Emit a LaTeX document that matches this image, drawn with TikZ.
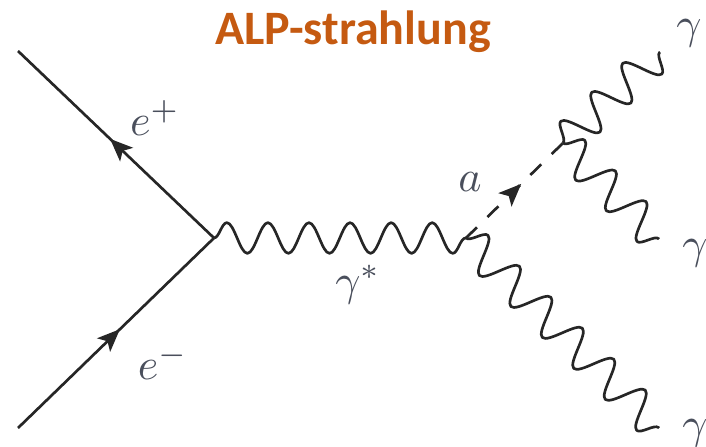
\documentclass[tikz,border=0pt]{standalone}
\usepackage{fontspec}
\setmainfont{Carlito}
\usepackage{xcolor}
\usetikzlibrary{arrows.meta,decorations.markings,decorations.pathmorphing}
\definecolor{titlecol}{HTML}{C55A11}
\definecolor{linecol}{HTML}{262626}
\definecolor{labelcol}{HTML}{4A4F5C}
\tikzset{
    midarrow/.style={postaction={decorate}, decoration={markings,
        mark=at position #1 with {\arrow{Stealth[length=17pt, width=14pt, inset=4pt]}}}},
    fermion/.style={line width=2pt, linecol, midarrow=#1},
    photon/.style={line width=2pt, linecol, line join=round,
        decorate, decoration={snake, segment length=#1, amplitude=11.5pt}},
    slanted/.style={decoration={amplitude=13pt}},
    axion/.style={line width=2pt, linecol, dash pattern=on 11.5pt off 11pt, midarrow=#1},
    label/.style={labelcol, scale=3.3},
}
\begin{document}
\begin{tikzpicture}[x=0.75pt, y=-0.75pt]
        \useasboundingbox (0,0) rectangle (706,446);
        \clip (0,0) rectangle (706,446);

        % Vertices and free ends
        \coordinate (V1) at (214,238);
        \coordinate (V2) at (466,238);
        \coordinate (V3) at (563,143);
        \coordinate (Ep) at (18,51);
        \coordinate (Em) at (18,428);
        \coordinate (G1) at (660,52);
        \coordinate (G2) at (659,239);
        \coordinate (G3) at (659,428);

        % Title
        \node[titlecol, font=\fontsize{36}{38}\selectfont\bfseries] (title) at (353,32) {ALP-strahlung};

        % Electron lines:
        \draw[fermion=0.52] (Em) -- (V1);
        \draw[fermion=0.53] (V1) -- (Ep);

        % Virtual photon and ALP:
        \draw[photon=30.8pt] (V1) -- (V2);
        \draw[axion=0.57] (V2) -- (V3);

        % Outgoing photons:
        \draw[photon=31.8pt, slanted] (V3) -- (G1);
        \draw[photon=32.5pt, slanted] (V3) -- (G2);
        \draw[photon=33.1pt, slanted] (V2) -- (G3);

        % Labels
        \node[label] (lep) at (155,118) {$e^+$};
        \node[label] (lem) at (163,362) {$e^-$};
        \node[label] (lgs) at (358,285) {$\gamma^*$};
        \node[label] (la) at (470,182) {$a$};
        \node[label] (lg1) at (689,33) {$\gamma$};
        \node[label] (lg2) at (695,253) {$\gamma$};
        \node[label] (lg3) at (695,433) {$\gamma$};
    \end{tikzpicture}
\end{document}
